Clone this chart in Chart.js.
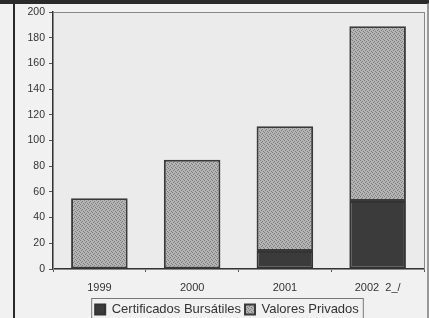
<!DOCTYPE html>
<html>
<head>
<meta charset="utf-8">
<script src="https://cdn.jsdelivr.net/npm/chart.js@4/dist/chart.umd.min.js"></script>
<style>
  html, body { margin: 0; padding: 0; background: #f1f1f1; }
  #wrap { width: 429px; height: 318px; position: relative; }
</style>
</head>
<body>
<div id="wrap"><canvas id="grafica" width="429" height="318"></canvas></div>
<script>
// Datos de la gráfica
const categorias = ['1999', '2000', '2001', '2002  2_/'];
const certificados = [0, 0, 14, 53];
const valoresPrivados = [55, 85, 97, 136];
const ticksY = [0, 20, 40, 60, 80, 100, 120, 140, 160, 180, 200];

const corrimientoLeyenda = 15;

// Trama punteada (fija) para las barras
function crearTrama(base, punto) {
    const c = document.createElement('canvas');
    c.width = 4; c.height = 4;
    const g = c.getContext('2d');
    g.fillStyle = base;
    g.fillRect(0, 0, 4, 4);
    g.fillStyle = punto;
    g.fillRect(0, 0, 1, 1);
    g.fillRect(2, 1, 1, 1);
    g.fillRect(1, 2, 1, 1);
    g.fillRect(3, 3, 1, 1);
    return g.createPattern(c, 'repeat');
}

// Marco, fondo del área y caja de leyenda
const marco = {
    id: 'marco',
    afterLayout(chart) {
        // la leyenda del original está corrida a la derecha
        chart.legend.left += corrimientoLeyenda;
        chart.legend.right += corrimientoLeyenda;
    },
    beforeDraw(chart) {
        const { ctx, chartArea: a } = chart;
        ctx.save();
        ctx.fillStyle = '#ebebeb';
        ctx.fillRect(a.left, a.top, a.right - a.left, a.bottom - a.top);
        ctx.restore();
    },
    afterDraw(chart) {
        const { ctx, chartArea: a, legend: l } = chart;
        ctx.save();
        ctx.fillStyle = '#2a2a2a';
        ctx.fillRect(0, 0, 429, 4);
        ctx.fillRect(13, 0, 2, 318);
        ctx.strokeStyle = '#888';
        ctx.lineWidth = 1;
        ctx.strokeRect(a.left + 0.5, a.top + 0.5, a.right - a.left, a.bottom - a.top);
        ctx.strokeStyle = '#999';
        ctx.strokeRect(427.5, 4, 1, 314);
        // caja alrededor de la leyenda
        const items = l.legendHitBoxes || [];
        if (items.length) {
            const x0 = items[0].left - 4;
            const last = items[items.length - 1];
            const x1 = last.left + last.width + 4;
            ctx.strokeStyle = '#777';
            ctx.strokeRect(x0 + 0.5, items[0].top - 4.5, x1 - x0, 24);
        }
        ctx.restore();
    }
};

new Chart(document.getElementById('grafica'), {
    type: 'bar',
    data: {
        labels: categorias,
        datasets: [
            {
                label: 'Certificados Bursátiles',
                data: certificados,
                backgroundColor: '#3b3b3b',
                borderColor: '#333',
                borderWidth: 2,
                borderSkipped: false
            },
            {
                label: 'Valores Privados',
                data: valoresPrivados,
                backgroundColor: crearTrama('#b4b4b4', '#7e7e7e'),
                borderColor: '#3a3a3a',
                borderWidth: 2,
                borderSkipped: false
            }
        ]
    },
    options: {
        responsive: false,
        animation: false,
        layout: { padding: { top: 12, right: 5, left: 0, bottom: -8 } },
        datasets: {
            bar: { categoryPercentage: 1, barPercentage: 0.61 }
        },
        scales: {
            x: {
                stacked: true,
                grid: { display: true, drawOnChartArea: false, offset: true, tickLength: 3, color: '#555' },
                border: { color: '#333', width: 1.5 },
                ticks: { color: '#333', font: { family: 'Arial, Liberation Sans', size: 11 }, padding: 9 },
                afterFit(s) { s.height = 30; }
            },
            y: {
                stacked: true,
                min: 0,
                max: 200,
                afterBuildTicks(s) { s.ticks = ticksY.map(v => ({ value: v })); },
                grid: { display: true, drawOnChartArea: false, tickLength: 4, color: '#555' },
                border: { color: '#333', width: 1.5 },
                ticks: { color: '#333', font: { family: 'Arial, Liberation Sans', size: 10.5 }, padding: 4 },
                afterFit(s) { s.width = 53; }
            }
        },
        plugins: {
            legend: {
                position: 'bottom',
                labels: {
                    color: '#333',
                    boxWidth: 10,
                    boxHeight: 10,
                    padding: 4,
                    font: { family: 'Arial, Liberation Sans', size: 13 }
                }
            },
            tooltip: { enabled: false }
        }
    },
    plugins: [marco]
});
</script>
</body>
</html>
